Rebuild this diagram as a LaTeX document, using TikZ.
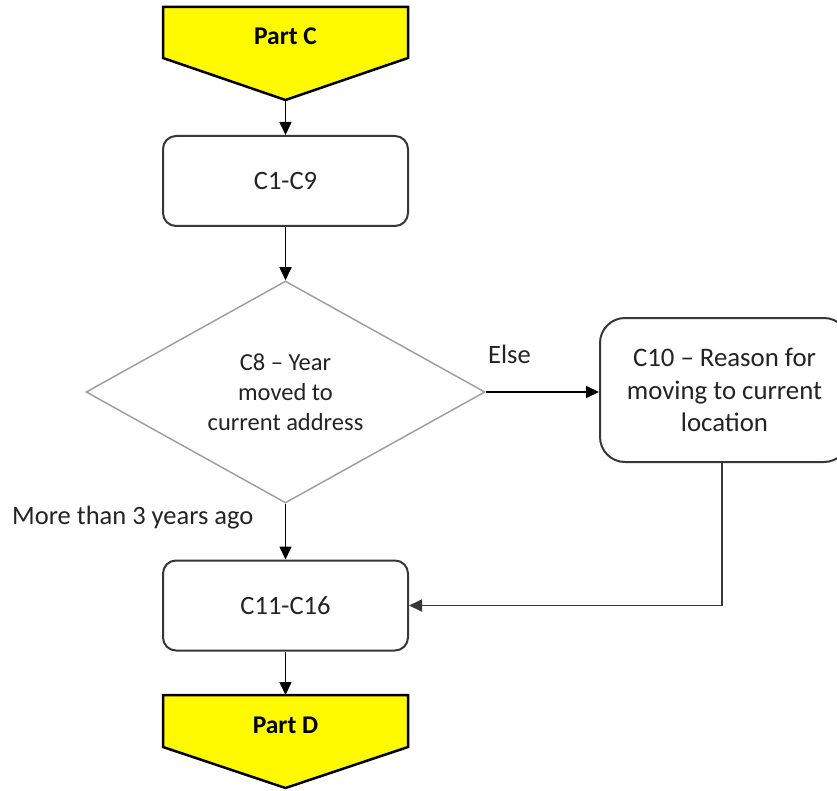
\documentclass[tikz,border=0pt]{standalone}
\usepackage{fontspec}
\setmainfont{Carlito}
\usetikzlibrary{arrows.meta,shapes.geometric}

\definecolor{partyellow}{RGB}{255,250,0}
\definecolor{boxline}{RGB}{55,55,55}
\definecolor{dialine}{RGB}{160,160,160}
\definecolor{txt}{RGB}{35,35,35}

\tikzset{
  stepbox/.style={draw=boxline, line width=2pt, rounded corners=13pt, fill=white,
    minimum width=245pt, minimum height=90pt, inner sep=0pt, text=txt,
    font=\fontsize{26.5}{32}\selectfont, align=center},
  decision/.style={draw=dialine, line width=1.5pt, diamond, aspect=1.8,
    minimum width=399pt, minimum height=222pt, inner sep=2pt, text=txt,
    font=\fontsize{24.5}{30}\selectfont, align=center},
  partshape/.style={fill=partyellow, draw=black, line width=2.5pt, line join=miter},
  parttext/.style={font=\fontsize{25.5}{30}\selectfont\bfseries, text=black},
  arr/.style={draw=black, line width=1.6pt, -{Triangle[length=13pt,width=12pt]}},
  lbl/.style={font=\fontsize{26.5}{32}\selectfont, text=txt, inner sep=0pt},
}

\begin{document}
\begin{tikzpicture}[x=1pt, y=-1pt]
\useasboundingbox (0,0) rectangle (837,791);

% Part C entry marker
\path[partshape] (163,7) -- (408,7) -- (408,58) -- (285.5,100) -- (163,58) -- cycle;
\node[parttext] (partC) at (285.5,36) {Part C};
\coordinate (partCtip) at (285.5,100);

% Part D exit marker
\path[partshape] (163,695) -- (408,695) -- (408,747) -- (285.5,788) -- (163,747) -- cycle;
\node[parttext] (partD) at (285.5,725) {Part D};
\coordinate (partDtop) at (285.5,695);

% Question blocks
\node[stepbox] (c19) at (285.5,181) {C1-C9};
\node[decision] (c8) at (285.5,392) {C8 -- Year\\moved to\\current address};
\node[stepbox, minimum width=249pt, minimum height=144pt, rounded corners=25pt,
      font=\fontsize{26.8}{32.5}\selectfont] (c10) at (724.5,390)
      {C10 -- Reason for\\moving to current\\location};
\node[stepbox] (c1116) at (285.5,605.5) {C11-C16};

% Flow
\draw[arr] (partCtip) -- (c19.north);
\draw[arr] (c19.south) -- (c8.north);
\draw[arr] (c8.east) -- (c8.east -| c10.west);
\draw[arr] (c8.south) -- (c1116.north);
\coordinate (bend) at (722,605.5);
\draw[arr, line width=1.8pt, draw=boxline] (c10.south -| bend) -- (bend) -- (c1116.east);
\draw[arr] (c1116.south) -- (partDtop);

% Branch labels
\node[lbl, anchor=base west] (elseLbl) at (488,363) {Else};
\node[lbl, anchor=base west] (moreLbl) at (12,524) {More than 3 years ago};
\end{tikzpicture}
\end{document}
